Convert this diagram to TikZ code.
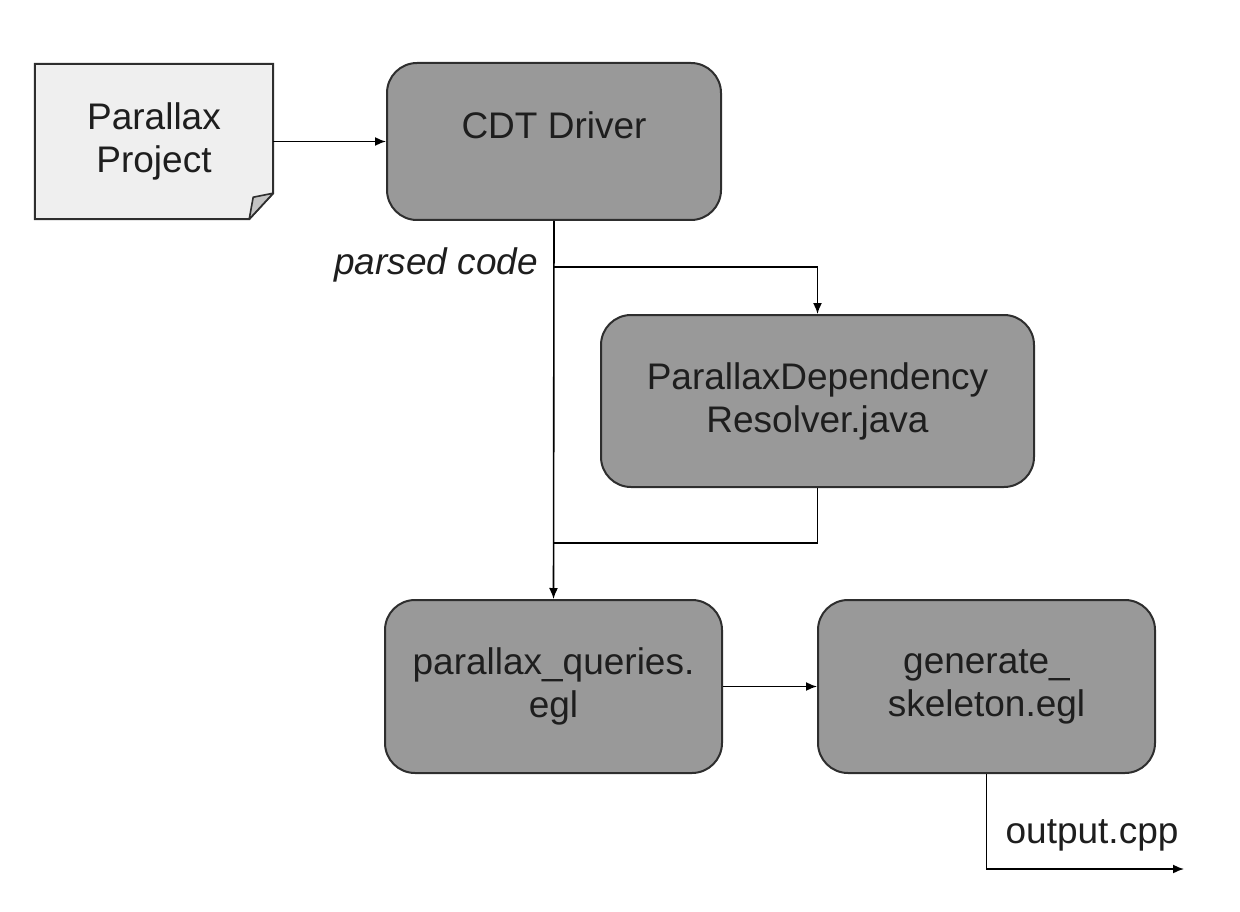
\documentclass[tikz,border=0pt]{standalone}
\usepackage{fontspec}
\setmainfont{Liberation Sans}
\usetikzlibrary{arrows.meta,positioning}
\definecolor{boxfill}{HTML}{999999}
\definecolor{notefill}{HTML}{EFEFEF}
\definecolor{foldfill}{HTML}{C4C4C4}
\definecolor{edge}{HTML}{2E2E2E}
\definecolor{txt}{HTML}{1E1E1E}
\tikzset{
  proc/.style={draw=edge, line width=2pt, fill=boxfill, rounded corners=30pt,
    align=center, inner sep=0pt, text=txt, font=\fontsize{37}{43}\selectfont},
  plain/.style={inner sep=0pt, text=txt, font=\fontsize{37}{43}\selectfont, align=center},
  arr/.style={draw=black, line width=1.6pt, -{Latex[length=11pt,width=9pt]}},
  conn/.style={draw=black, line width=1.6pt},
}
\begin{document}
\begin{tikzpicture}[x=1pt,y=-1pt]
\useasboundingbox (0,0) rectangle (1240,912);
% note shape
\node[minimum width=238pt, minimum height=155pt, inner sep=0pt] (note) at (154,141.5) {};
\fill[notefill, draw=edge, line width=2pt, line join=miter]
  (note.north west) -- (note.north east) -- ([yshift=26pt]note.south east)
  -- ([xshift=-24pt]note.south east) -- (note.south west) -- cycle;
\fill[foldfill, draw=edge, line width=1.6pt, line join=round]
  ([yshift=26pt]note.south east) -- ([xshift=-20pt,yshift=22pt]note.south east)
  -- ([xshift=-24pt]note.south east) -- cycle;
\node[plain] (notetext) at (note.center) {Parallax\\Project};
% boxes
\node[proc, minimum width=334pt, minimum height=157pt] (cdt) at (554,141.5) {};
\node[plain] (cdttext) at (554,125) {CDT Driver};
\node[proc, minimum width=433pt, minimum height=172pt] (res) at (817.5,401) {ParallaxDependency\\Resolver.java};
\node[proc, minimum width=337pt, minimum height=173pt] (pq) at (553.5,686.5) {parallax\_queries.\\egl};
\node[proc, minimum width=337pt, minimum height=173pt] (gen) at (986.5,686.5) {generate\_\\skeleton.egl};
% coordinates
\coordinate (b1) at (553.5,267);
\coordinate (b2) at (553.5,543);
\coordinate (outend) at (1184,869);
% connectors
\draw[arr] (note.east) -- (cdt.west);
\draw[arr] (cdt.south) -- (pq.north);
\draw[arr] (b1) -| (res.north);
\draw[conn] (res.south) |- (b2);
\draw[arr] (pq.east) -- (gen.west);
\draw[arr] (gen.south) |- (outend);
% labels
\node[plain, anchor=east, font=\fontsize{37}{43}\selectfont\itshape] (parsed) at (538,265) {parsed code};
\node[plain] (outlbl) at (1092,835) {output.cpp};
\end{tikzpicture}
\end{document}
